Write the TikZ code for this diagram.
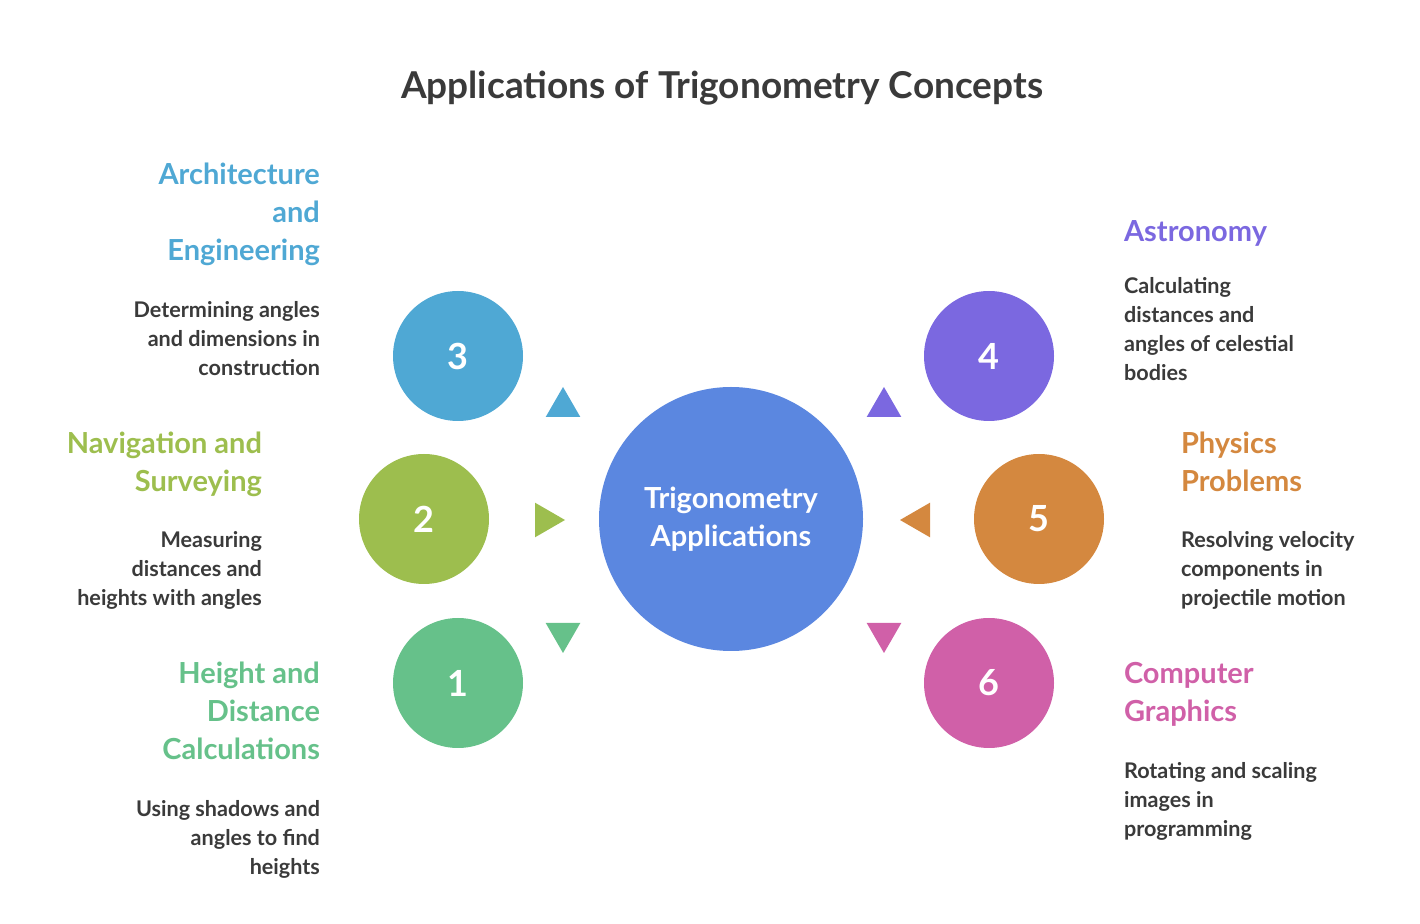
\documentclass[tikz,border=0pt]{standalone}
\usepackage{fontspec}
\setmainfont{Lato}
\usetikzlibrary{shapes.geometric}
\definecolor{archblue}{HTML}{4FA8D4}
\definecolor{navgreen}{HTML}{9DBE4E}
\definecolor{heightgreen}{HTML}{66C18A}
\definecolor{astroviolet}{HTML}{7B68E0}
\definecolor{physorange}{HTML}{D4883F}
\definecolor{graphpink}{HTML}{D060A8}
\definecolor{hubblue}{HTML}{5B87E0}
\definecolor{darktext}{HTML}{3A3A3A}

\begin{document}
\begin{tikzpicture}
    [x=0.5pt, y=-0.5pt,
    num/.style = {circle, fill=#1, minimum size=65pt, inner sep=0pt,
      text=white, font=\fontsize{18}{20}\selectfont\bfseries},
    hub/.style = {circle, fill=hubblue, minimum size=132pt, inner sep=0pt, align=center,
      text=white, font=\fontsize{14.5}{19}\selectfont\bfseries},
    tip/.style = {isosceles triangle, isosceles triangle apex angle=60, fill=#1,
      minimum height=15pt, inner sep=0pt},
    head left/.style = {anchor=north east, align=right, text=#1,
      font=\fontsize{14.5}{19}\selectfont\bfseries},
    head right/.style = {anchor=north west, align=left, text=#1,
      font=\fontsize{14.5}{19}\selectfont\bfseries},
    body left/.style = {anchor=north east, align=right, text=darktext,
      font=\fontsize{10.8}{14.5}\selectfont\bfseries},
    body right/.style = {anchor=north west, align=left, text=darktext,
      font=\fontsize{10.8}{14.5}\selectfont\bfseries}]

    \useasboundingbox (0,0) rectangle (1420,924);

    \node [text=darktext, font=\fontsize{18.5}{22}\selectfont\bfseries] (title) at (722,88)
      {Applications of Trigonometry Concepts};

    \node [hub] (Hub) at (731,519) {Trigonometry\\Applications};

    \node [num=archblue] (Three) at (458,356) {3};
    \node [num=navgreen] (Two) at (424,519) {2};
    \node [num=heightgreen] (One) at (458,683) {1};
    \node [num=astroviolet] (Four) at (989,356) {4};
    \node [num=physorange] (Five) at (1039,519) {5};
    \node [num=graphpink] (Six) at (989,683) {6};

    \node [tip=archblue, rotate=90] (tip3) at (563,407) {};
    \node [tip=navgreen] (tip2) at (545,520) {};
    \node [tip=heightgreen, rotate=-90] (tip1) at (563,633) {};
    \node [tip=astroviolet, rotate=90] (tip4) at (884,407) {};
    \node [tip=physorange, rotate=180] (tip5) at (920,520) {};
    \node [tip=graphpink, rotate=-90] (tip6) at (884,633) {};

    % left side texts
    \node [head left=archblue] (arch) at (327,156) {Architecture\\and\\Engineering};
    \node [body left] (archtxt) at (327,294) {Determining angles\\and dimensions in\\construction};
    \node [head left=navgreen] (nav) at (269,425) {Navigation and\\Surveying};
    \node [body left] (navtxt) at (269,524) {Measuring\\distances and\\heights with angles};
    \node [head left=heightgreen] (height) at (327,655) {Height and\\Distance\\Calculations};
    \node [body left] (heighttxt) at (327,793) {Using shadows and\\angles to find\\heights};

    % right side texts
    \node [head right=astroviolet] (astro) at (1117,213) {Astronomy};
    \node [body right] (astrotxt) at (1117,270) {Calculating\\distances and\\angles of celestial\\bodies};
    \node [head right=physorange] (phys) at (1174,425) {Physics\\Problems};
    \node [body right] (phystxt) at (1174,524) {Resolving velocity\\components in\\projectile motion};
    \node [head right=graphpink] (graph) at (1117,655) {Computer\\Graphics};
    \node [body right] (graphtxt) at (1117,755) {Rotating and scaling\\images in\\programming};
  \end{tikzpicture}
\end{document}
